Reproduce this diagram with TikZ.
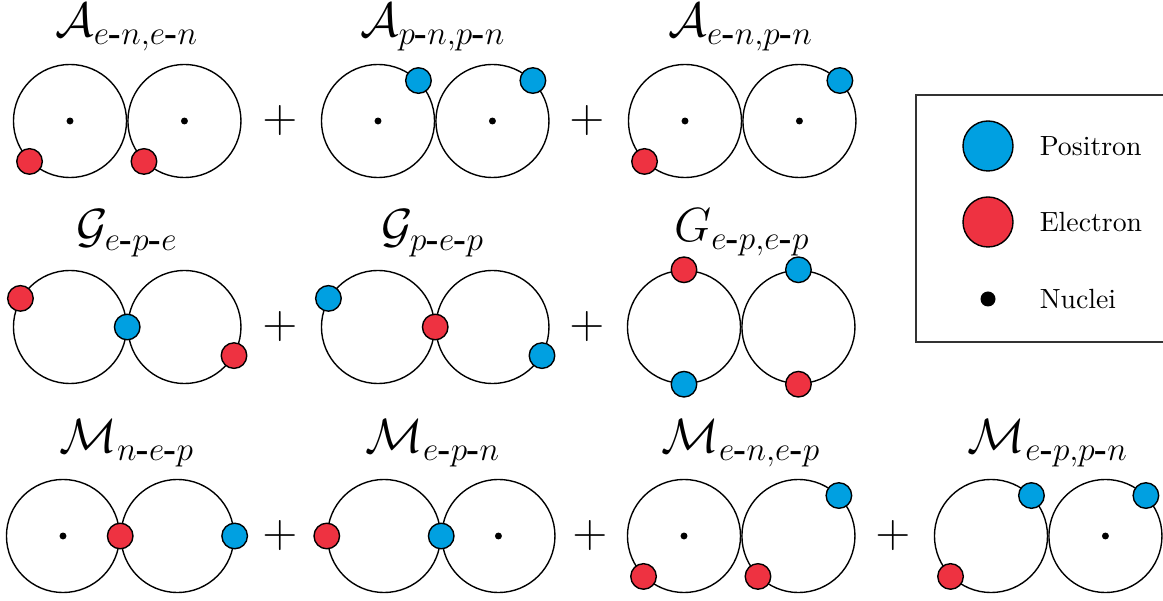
\documentclass[tikz,border=0pt]{standalone}
\usepackage{amsmath}
\usepackage{tikz}
\usetikzlibrary{positioning}
\definecolor{posblue}{RGB}{0,160,225}
\definecolor{elecred}{RGB}{238,50,65}
\newcommand{\hyph}{\text{\textbf{-}}}

\begin{document}
\begin{tikzpicture}[
    x=0.36pt, y=-0.36pt,
    node distance=0pt,
    orbit/.style={circle, draw, line width=0.5pt, minimum size=40.7pt, inner sep=0pt},
    particle/.style={circle, draw, line width=0.5pt, minimum size=9.2pt, inner sep=0pt},
    positron/.style={particle, fill=posblue},
    electron/.style={particle, fill=elecred},
    nucleus/.style={circle, fill=black, minimum size=2.5pt, inner sep=0pt},
    term/.style={font=\LARGE, anchor=base},
    plussign/.style={font=\LARGE}
]
    \useasboundingbox (0,0) rectangle (1163,601);

    % row 1: A terms
    \node[term] (ta1) at (127,37) {$\mathcal{A}_{e\hyph n,e\hyph n}$};
    \node[orbit] (a1l) at (70,121) {};
    \node[orbit, right=of a1l] (a1r) {};
    \node[nucleus] at (a1l) {};
    \node[nucleus] at (a1r) {};
    \node[electron] at (a1l.225) {};
    \node[electron] at (a1r.225) {};
    \node[plussign] (pa1) at (280,121) {$+$};

    \node[term] (ta2) at (433,37) {$\mathcal{A}_{p\hyph n,p\hyph n}$};
    \node[orbit] (a2l) at (378,121) {};
    \node[orbit, right=of a2l] (a2r) {};
    \node[nucleus] at (a2l) {};
    \node[nucleus] at (a2r) {};
    \node[positron] at (a2l.45) {};
    \node[positron] at (a2r.45) {};
    \node[plussign] (pa2) at (587,121) {$+$};

    \node[term] (ta3) at (741,37) {$\mathcal{A}_{e\hyph n,p\hyph n}$};
    \node[orbit] (a3l) at (685,121) {};
    \node[orbit, right=of a3l] (a3r) {};
    \node[nucleus] at (a3l) {};
    \node[nucleus] at (a3r) {};
    \node[electron] at (a3l.225) {};
    \node[positron] at (a3r.45) {};

    % row 2: G terms
    \node[term] (tg1) at (127,243) {$\mathcal{G}_{e\hyph p\hyph e}$};
    \node[orbit] (g1l) at (70,327) {};
    \node[orbit, right=of g1l] (g1r) {};
    \node[electron] at (g1l.150) {};
    \node[positron] at (g1l.east) {};
    \node[electron] at (g1r.-30) {};
    \node[plussign] (pg1) at (280,327) {$+$};

    \node[term] (tg2) at (433,243) {$\mathcal{G}_{p\hyph e\hyph p}$};
    \node[orbit] (g2l) at (378,327) {};
    \node[orbit, right=of g2l] (g2r) {};
    \node[positron] at (g2l.150) {};
    \node[electron] at (g2l.east) {};
    \node[positron] at (g2r.-30) {};
    \node[plussign] (pg2) at (587,327) {$+$};

    \node[term] (tg3) at (742,242) {$G_{e\hyph p,e\hyph p}$};
    \node[orbit] (g3l) at (684,327) {};
    \node[orbit, right=of g3l] (g3r) {};
    \node[electron] at (g3l.90) {};
    \node[positron] at (g3l.270) {};
    \node[positron] at (g3r.90) {};
    \node[electron] at (g3r.270) {};

    % row 3: M terms
    \node[term] (tm1) at (127,453) {$\mathcal{M}_{n\hyph e\hyph p}$};
    \node[orbit] (m1l) at (63,536) {};
    \node[orbit, right=of m1l] (m1r) {};
    \node[nucleus] at (m1l) {};
    \node[electron] at (m1l.east) {};
    \node[positron] at (m1r.east) {};
    \node[plussign] (pm1) at (280,536) {$+$};

    \node[term] (tm2) at (433,453) {$\mathcal{M}_{e\hyph p\hyph n}$};
    \node[orbit] (m2l) at (384,536) {};
    \node[orbit, right=of m2l] (m2r) {};
    \node[nucleus] at (m2r) {};
    \node[electron] at (m2l.west) {};
    \node[positron] at (m2l.east) {};
    \node[plussign] (pm2) at (590,536) {$+$};

    \node[term] (tm3) at (741,453) {$\mathcal{M}_{e\hyph n,e\hyph p}$};
    \node[orbit] (m3l) at (684,536) {};
    \node[orbit, right=of m3l] (m3r) {};
    \node[nucleus] at (m3l) {};
    \node[electron] at (m3l.225) {};
    \node[electron] at (m3r.225) {};
    \node[positron] at (m3r.45) {};
    \node[plussign] (pm3) at (893,536) {$+$};

    \node[term] (tm4) at (1048,453) {$\mathcal{M}_{e\hyph p,p\hyph n}$};
    \node[orbit] (m4l) at (991,536) {};
    \node[orbit, right=of m4l] (m4r) {};
    \node[nucleus] at (m4r) {};
    \node[positron] at (m4l.45) {};
    \node[electron] at (m4l.225) {};
    \node[positron] at (m4r.45) {};

    % legend
    \draw[black!80, line width=0.5pt] (916,95) rectangle (1175,342);
    \node[positron, minimum size=18pt] (legpos) at (988,146) {};
    \node[electron, minimum size=18pt] (legele) at (988,222) {};
    \node[nucleus, minimum size=5.4pt] (legnuc) at (988,299) {};
    \node[anchor=west] (txtpos) at (1030,146) {Positron};
    \node[anchor=west] (txtele) at (1030,222) {Electron};
    \node[anchor=west] (txtnuc) at (1030,299) {Nuclei};
\end{tikzpicture}
\end{document}
